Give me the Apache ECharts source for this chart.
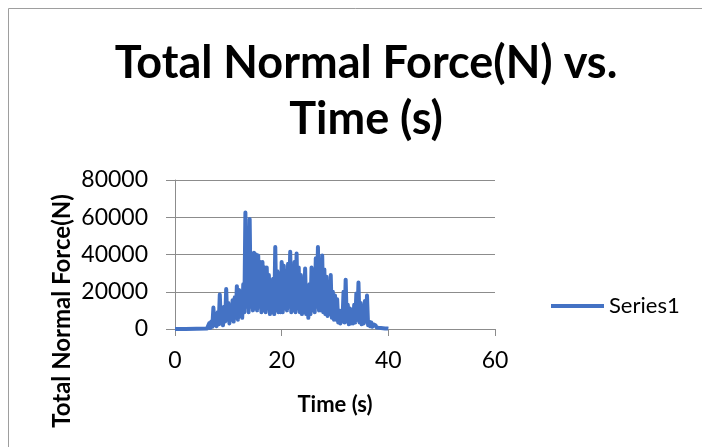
<!DOCTYPE html>
<html>
<head>
<meta charset="utf-8">
<script src="https://cdn.jsdelivr.net/npm/echarts@6/dist/echarts.min.js"></script>
<style>
  html, body { margin: 0; padding: 0; background: #fff; }
  #chart { width: 702px; height: 447px; }
</style>
</head>
<body>
<div id="chart"></div>
<script>
// time (s) and total normal force (N)
var timeS = [
  0, 2, 4, 6.0, 6.2, 6.4, 6.6, 6.8, 7.0, 7.2, 7.4, 7.6, 7.8, 8.0, 8.2, 8.4, 8.6, 8.8, 9.0, 9.2, 9.4, 9.6, 9.8,
  10.0, 10.2, 10.4, 10.6, 10.8, 11.0, 11.2, 11.4, 11.6, 11.8, 12.0, 12.2, 12.4, 12.6, 12.8, 13.0, 13.2, 13.4, 13.6, 13.8,
  14.0, 14.2, 14.4, 14.6, 14.8, 15.0, 15.2, 15.4, 15.6, 15.8, 16.0, 16.2, 16.4, 16.6, 16.8, 17.0, 17.2, 17.4, 17.6, 17.8,
  18.0, 18.2, 18.4, 18.6, 18.8, 19.0, 19.2, 19.4, 19.6, 19.8, 20.0, 20.2, 20.4, 20.6, 20.8, 21.0, 21.2, 21.4, 21.6, 21.8,
  22.0, 22.2, 22.4, 22.6, 22.8, 23.0, 23.2, 23.4, 23.6, 23.8, 24.0, 24.2, 24.4, 24.6, 24.8, 25.0, 25.2, 25.4, 25.6, 25.8,
  26.0, 26.2, 26.4, 26.6, 26.8, 27.0, 27.2, 27.4, 27.6, 27.8, 28.0, 28.2, 28.4, 28.6, 28.8, 29.0, 29.2, 29.4, 29.6, 29.8,
  30.0, 30.2, 30.4, 30.6, 30.8, 31.0, 31.2, 31.4, 31.6, 31.8, 32.0, 32.2, 32.4, 32.6, 32.8, 33.0, 33.2, 33.4, 33.6, 33.8,
  34.0, 34.2, 34.4, 34.6, 34.8, 35.0, 35.2, 35.4, 35.6, 35.8, 36.0, 36.2, 36.4, 36.6, 36.8, 37.0, 37.2, 37.4, 37.6, 37.8,
  38.0, 38.2, 38.4, 38.6, 38.8, 39.0, 39.2, 39.4, 39.6, 39.8, 40.0
];
var forceN = [
  0, 0, 100, 300, 800, 3000, 500, 4000, 1200, 11500, 2000, 6000, 1500, 9000, 2500, 18500, 3000, 10000, 2000, 12000, 4000, 21500, 5000,
  14000, 3000, 12000, 5000, 15500, 4000, 17000, 6000, 23000, 5000, 21000, 7000, 20000, 6000, 24000, 9000, 62500, 12000, 32000, 9000,
  59000, 12000, 38000, 10000, 41000, 11000, 40000, 10000, 39500, 12000, 36000, 9000, 36000, 10000, 33000, 9000, 33000, 11000, 29000, 8000,
  26000, 9000, 27000, 8000, 44000, 10000, 31000, 9000, 28000, 9000, 36000, 9000, 34000, 11000, 31000, 10000, 35000, 12000, 41500, 9000,
  33000, 10000, 36000, 9000, 40500, 11000, 33000, 9000, 29000, 8000, 26000, 9000, 32500, 8000, 22000, 6000, 24000, 8000, 33000, 10000,
  32000, 9000, 38000, 12000, 44000, 10000, 36000, 10000, 39500, 9000, 32000, 8000, 28000, 7000, 25000, 8000, 29000, 6000, 20000, 5000,
  18000, 5000, 16000, 3500, 10000, 3000, 8000, 4000, 20000, 3500, 26500, 4000, 13000, 2500, 11000, 3000, 10000, 3000, 13000, 3500,
  19000, 5000, 25000, 3500, 14000, 2500, 12000, 3000, 15000, 4000, 18000, 2000, 4000, 1500, 3500, 1200, 2500, 1500, 2000, 800,
  1500, 600, 1000, 500, 800, 400, 600, 300, 500, 300, 200
];
var yTicks = [0, 20000, 40000, 60000, 80000];
var xTicks = [0, 20, 40, 60];

var points = [];
for (var i = 0; i < timeS.length; i++) {
  points.push([timeS[i], forceN[i]]);
}

var chart = echarts.init(document.getElementById('chart'));
var font = 'Lato, "Open Sans", sans-serif';
var option = {
  animation: false,
  title: {
    text: 'Total Normal Force(N) vs.\nTime (s)',
    left: 361,
    top: 30,
    textAlign: 'center',
    textStyle: { fontFamily: font, fontWeight: 'bold', fontSize: 45, lineHeight: 56, color: '#000' }
  },
  legend: {
    left: 546,
    top: 290,
    itemWidth: 53,
    itemHeight: 4,
    icon: 'rect',
    itemGap: 6,
    textStyle: { fontFamily: font, fontSize: 22, color: '#000' },
    data: ['Series1']
  },
  grid: { left: 175, right: 207, top: 180, bottom: 118, containLabel: false },
  xAxis: {
    type: 'value',
    min: xTicks[0],
    max: xTicks[xTicks.length - 1],
    interval: 20,
    axisLine: { show: true, lineStyle: { color: '#8c8c8c', width: 1 } },
    axisTick: { show: true, length: 7, lineStyle: { color: '#8c8c8c' } },
    splitLine: { show: false },
    axisLabel: { margin: 20, fontFamily: font, fontSize: 23, color: '#000' }
  },
  yAxis: {
    type: 'value',
    min: yTicks[0],
    max: yTicks[yTicks.length - 1],
    interval: 20000,
    axisLine: { show: true, lineStyle: { color: '#8c8c8c', width: 1 } },
    axisTick: { show: true, length: 9, lineStyle: { color: '#8c8c8c' } },
    splitLine: { show: true, lineStyle: { color: '#8c8c8c', width: 1 } },
    axisLabel: {
      margin: 27, fontFamily: font, fontSize: 23, color: '#000',
      formatter: function (v) { return String(v); }
    }
  },
  graphic: [
    {
      type: 'rect',
      shape: { x: 8.5, y: 8.5, width: 900, height: 900 },
      style: { fill: 'none', stroke: '#9e9e9e', lineWidth: 1 },
      silent: true
    },
    {
      type: 'text',
      x: 62, y: 311,
      rotation: Math.PI / 2,
      style: {
        text: 'Total Normal Force(N)',
        fontFamily: font, fontWeight: 'bold', fontSize: 24, fill: '#000',
        textAlign: 'center', textVerticalAlign: 'middle'
      }
    },
    {
      type: 'text',
      x: 335, y: 405,
      style: {
        text: 'Time (s)',
        fontFamily: font, fontWeight: 'bold', fontSize: 22, fill: '#000',
        textAlign: 'center', textVerticalAlign: 'middle'
      }
    }
  ],
  series: [{
    name: 'Series1',
    type: 'line',
    data: points,
    showSymbol: false,
    symbol: 'none',
    lineStyle: { color: '#4472C4', width: 4, join: 'round' },
    itemStyle: { color: '#4472C4' }
  }]
};
chart.setOption(option);
</script>
</body>
</html>
